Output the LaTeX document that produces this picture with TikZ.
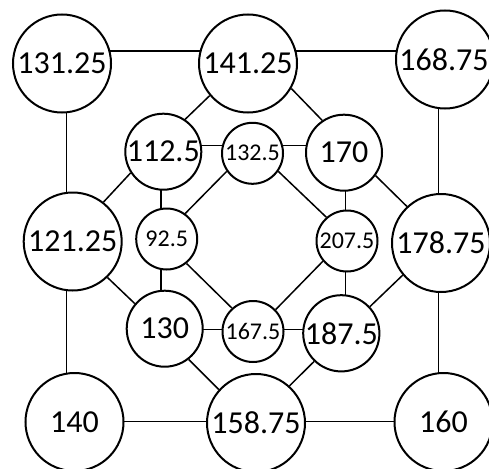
\documentclass[tikz,border=0pt]{standalone}
\usepackage{fontspec}
\setmainfont{Carlito}
\usetikzlibrary{backgrounds}
\begin{document}
\begin{tikzpicture}[x=1pt,y=-1pt,
  big/.style={circle,draw,line width=2pt,fill=white,inner sep=0pt,minimum size=98pt,font=\fontsize{32}{32}\selectfont},
  med/.style={circle,draw,line width=2pt,fill=white,inner sep=0pt,minimum size=76pt,font=\fontsize{32}{32}\selectfont},
  sml/.style={circle,draw,line width=2pt,fill=white,inner sep=0pt,minimum size=61pt,font=\fontsize{24}{24}\selectfont},
  edge/.style={line width=1.5pt}]
\useasboundingbox (0,0) rectangle (489,468);
% outer
\node[big] (n13125) at (62,63.5) {131.25};
\node[big] (n14125) at (248,63.5) {141.25};
\node[big] (n16875) at (445,59.5) {\kern-2pt 168.75};
\node[big] (n12125) at (72.7,241.5) {121.25};
\node[big] (n17875) at (441,243) {178.75};
\node[big] (n140) at (74.5,422) {140};
\node[big] (n15875) at (256,423) {158.75};
\node[big] (n160) at (443.5,422) {160};
% middle
\node[med] (n1125) at (163.3,151.7) {112.5};
\node[med] (n170) at (344,152.7) {170};
\node[med] (n130) at (164.7,328.7) {130};
\node[med] (n1875) at (341.3,333.3) {187.5};
% inner
\node[sml] (n1325) at (252.5,153.3) {132.5};
\node[sml] (n925) at (166.7,239) {92.5};
\node[sml] (n2075) at (347,241) {207.5};
\node[sml] (n1675) at (253,331.5) {167.5};
% guide coordinates
\coordinate (ytop) at (0,51);
\coordinate (ybot) at (0,421.5);
\coordinate (ymidA) at (0,145.7);
\coordinate (ymidB) at (0,329.3);
\coordinate (xleft) at (66.7,0);
\coordinate (xright) at (438.3,0);
\coordinate (xmidA) at (161,0);
\coordinate (xmidB) at (345.7,0);
\begin{scope}[on background layer]
\draw[edge] (n13125 |- ytop) -- (n14125 |- ytop) -- (n16875 |- ytop);
\draw[edge] (n140 |- ybot) -- (n15875 |- ybot) -- (n160 |- ybot);
\draw[edge] (xleft |- n13125) -- (xleft |- n12125) -- (xleft |- n140);
\draw[edge] (xright |- n16875) -- (xright |- n17875) -- (xright |- n160);
\draw[edge] (n1125 |- ymidA) -- (n1325 |- ymidA) -- (n170 |- ymidA);
\draw[edge] (n130 |- ymidB) -- (n1675 |- ymidB) -- (n1875 |- ymidB);
\draw[edge] (xmidA |- n1125) -- (xmidA |- n925) -- (xmidA |- n130);
\draw[edge] (xmidB |- n170) -- (xmidB |- n2075) -- (xmidB |- n1875);
\end{scope}
% diagonals
\draw[edge] (n14125.220.4) -- (n1125.56.2);
\draw[edge] (n14125.-30.6) -- (n170.124.9);
\draw[edge] (n1125.213.3) -- (n12125.52.4);
\draw[edge] (n1325.215.2) -- (n925.54.5);
\draw[edge] (n1325.-35.5) -- (n2075.131);
\draw[edge] (n170.-36.9) -- (n17875.133.3);
\draw[edge] (n12125.-46) -- (n130.140.3);
\draw[edge] (n925.-51.5) -- (n1675.132.6);
\draw[edge] (n130.-52.7) -- (n15875.138.2);
\draw[edge] (n2075.220.4) -- (n1675.44);
\draw[edge] (n17875.220.5) -- (n1875.43.6);
\draw[edge] (n1875.226.1) -- (n15875.48.2);
\end{tikzpicture}
\end{document}
